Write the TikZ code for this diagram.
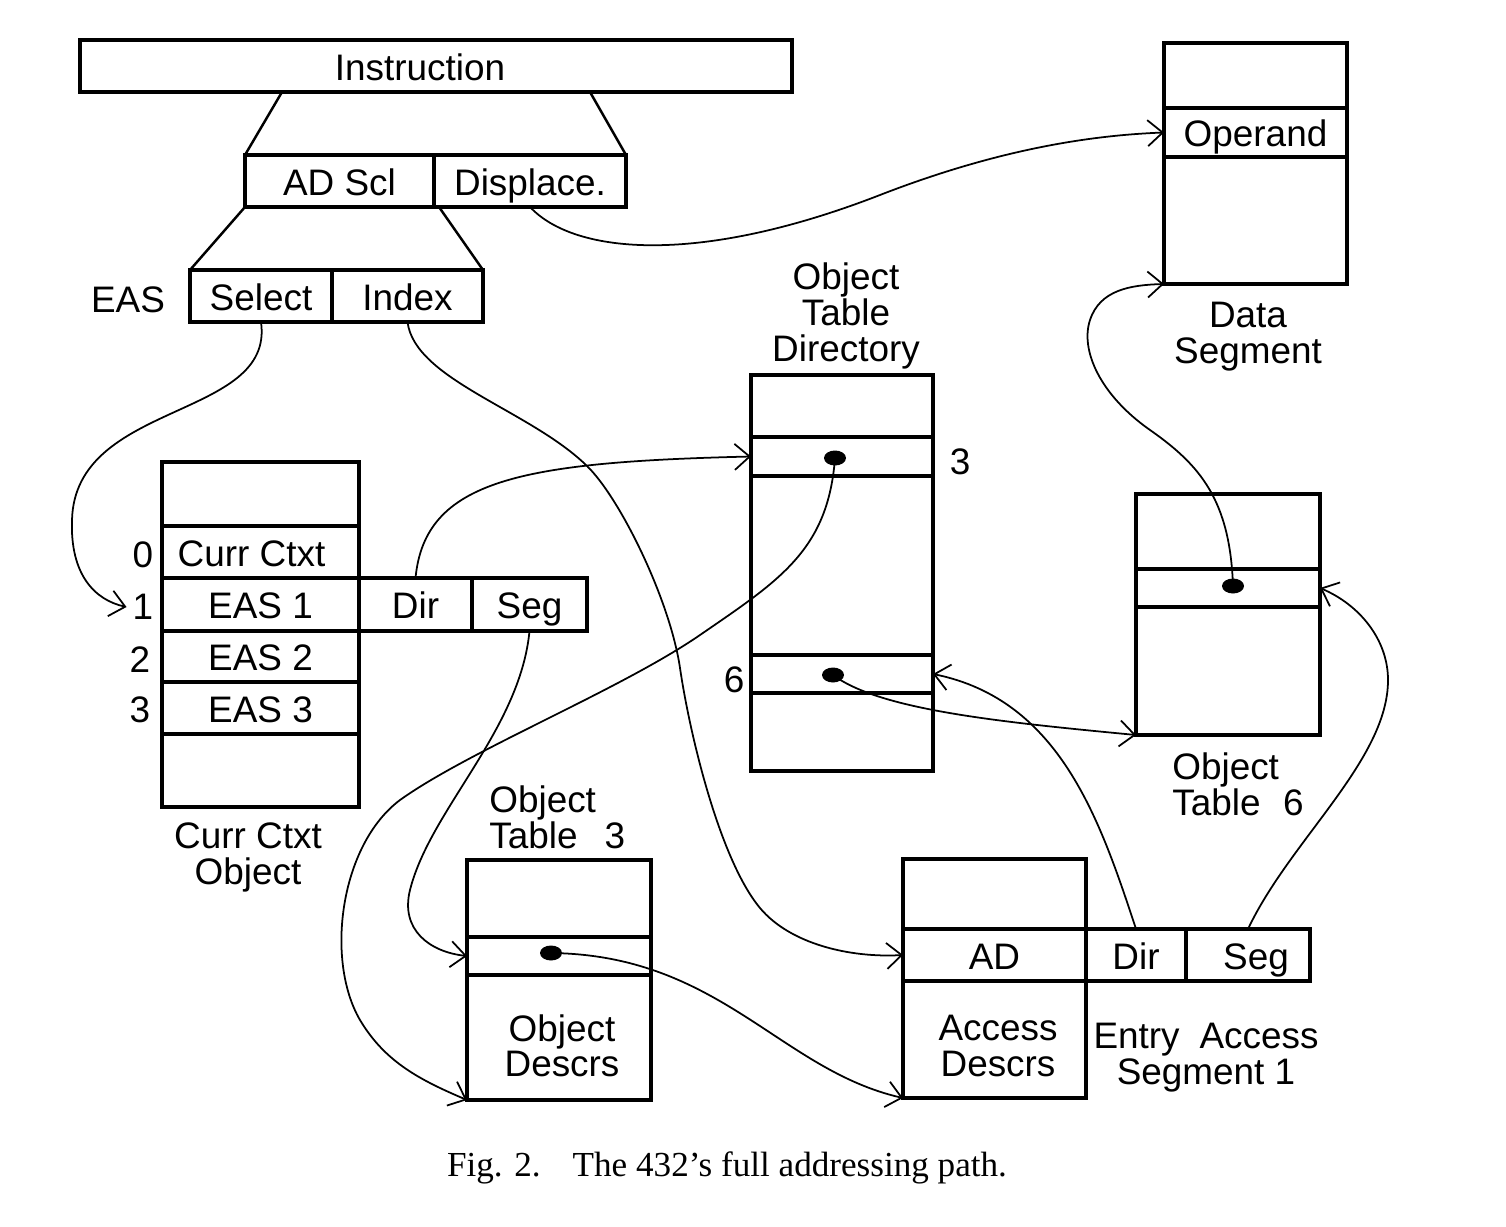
\documentclass[tikz,border=0pt]{standalone}
\usepackage{fontspec}
\setmainfont{Liberation Sans}
\newfontfamily\capfont{Liberation Serif}
\usetikzlibrary{arrows.meta,shapes.geometric}
\newcommand\labfont{\fontsize{21}{25}\selectfont}
\begin{document}
\begin{tikzpicture}[x=0.02cm,y=-0.02cm,
 cell/.style 2 args={draw, line width=2.6pt, rectangle, inner sep=0pt, outer sep=0pt,
   minimum width=#1*0.02cm, minimum height=#2*0.02cm, font=\labfont,
   text height=16pt, text depth=0pt},
 conn/.style={line width=1pt, -{Straight Barb[length=3mm,width=5.2mm]}},
 dot/.style={ellipse, fill, draw=none, minimum width=0.44cm, minimum height=0.3cm, inner sep=0pt},
 lbl/.style={inner sep=0pt, align=center, font=\fontsize{21}{20.5}\selectfont},
 tight/.style={inner sep=0pt, align=center, font=\fontsize{21}{20}\selectfont},
 num/.style={font=\labfont},
 trap/.style={line width=1.4pt}
]
\useasboundingbox (0,0) rectangle (1506,1226);

% instruction and fields
\node[cell={712}{52}] (instr) at (436,66) {\hspace*{-0.64cm}Instruction};
\node[cell={189}{52}] (adsc) at (339.5,181) {AD Scl};
\node[cell={192}{52}] (disp) at (530,181) {Displace.};
\node[cell={142}{52}] (sel) at (261,296) {Select};
\node[cell={151}{52}] (idx) at (407.5,296) {Index};
\node[num] (eas) at (128,300) {EAS};
\coordinate (i1) at (282,92);
\coordinate (i2) at (590,92);
\coordinate (a1) at (439,207);
\draw[trap] (i1) -- (adsc.north west);
\draw[trap] (i2) -- (disp.north east);
\draw[trap] (adsc.south west) -- (sel.north west);
\draw[trap] (a1) -- (idx.north east);

% data segment
\node[cell={183}{65}] (dst) at (1255.5,75.5) {};
\node[cell={183}{49}] (op) at (1255.5,132.5) {Operand};
\node[cell={183}{127}] (dsb) at (1255.5,220.5) {};
\node[lbl] (dslbl) at (1248,337) {Data\\Segment};

% object table directory
\node[cell={182}{62}] (odt0) at (842,406) {};
\node[cell={182}{39}] (r3) at (842,456.5) {};
\node[cell={182}{179}] (odtm) at (842,565.5) {};
\node[cell={182}{38}] (r6) at (842,674) {};
\node[cell={182}{78}] (odtb) at (842,732) {};
\node[lbl] (odtlbl) at (846,316) {Object\\Table\\Directory};
\node[num] (n3) at (960,462) {3};
\node[num] (n6) at (734,680) {6};
\node[dot] (d3) at (835,458) {};
\node[dot] (d6) at (833,675) {};

% current context object
\node[cell={197}{64}] (cc0) at (260.5,494) {};
\node[cell={197}{52}] (ccr0) at (260.5,552) {\hspace*{-0.36cm}Curr Ctxt};
\node[cell={197}{53}] (ccr1) at (260.5,604.5) {EAS 1};
\node[cell={197}{51}] (ccr2) at (260.5,656.5) {EAS 2};
\node[cell={197}{52}] (ccr3) at (260.5,708) {EAS 3};
\node[cell={197}{73}] (ccb) at (260.5,770.5) {};
\node[cell={113}{53}] (cdir) at (415.5,604.5) {Dir};
\node[cell={115}{53}] (cseg) at (529.5,604.5) {Seg};
\node[lbl] (cclbl) at (248,857) {Curr Ctxt\\Object};
\node[num] (n0) at (143,555) {0};
\node[num] (n1) at (143,607) {1};
\node[num] (n2) at (140,660) {2};
\node[num] (nn3) at (140,710) {3};

% object table 3
\node[cell={184}{77}] (t3a) at (559,898.5) {};
\node[cell={184}{38}] (t3r) at (559,956) {};
\node[cell={184}{125}] (t3b) at (559,1037.5) {};
\node[tight] (t3txt) at (562,1046) {Object\\Descrs};
\node[lbl, anchor=west, align=left] (t3lbl) at (489,817) {Object\\Table\hspace{0.54cm}3};
\node[dot] (dt3) at (551,953) {};

% entry access segment
\node[cell={183}{70}] (aca) at (994.5,894) {};
\node[cell={183}{52}] (adr) at (994.5,955) {AD};
\node[cell={183}{117}] (adb) at (994.5,1039.5) {};
\node[cell={100}{52}] (adir) at (1136,955) {Dir};
\node[cell={124}{52}] (aseg) at (1248,955) {\hspace*{0.32cm}Seg};
\node[tight] (actxt) at (998,1046) {Access\\Descrs};
\node[lbl] (aslbl) at (1206,1058) {Entry\hspace{0.54em}Access\\Segment 1};

% object table 6
\node[cell={184}{75}] (t6a) at (1228,531.5) {};
\node[cell={184}{38}] (t6r) at (1228,588) {};
\node[cell={184}{128}] (t6b) at (1228,671) {};
\node[dot] (dt6) at (1233,586) {};
\node[lbl, anchor=west, align=left] (t6lbl) at (1172,784) {Object\\Table\hspace{0.45cm}6};

% caption
\node[font=\capfont\fontsize{20}{24}\selectfont, inner sep=0pt] (cap) at (727,1168)
  {Fig. 2.\hspace{0.64cm}The 432’s full addressing path.};

% connectors
\draw[conn] (disp.south) .. controls (575,255) and (700,265) .. (880,195)
  .. controls (1006,146) and (1100,135) .. (op.west);
\draw[conn] (sel.south) .. controls (275,420) and (75,400) .. (72,520)
  .. controls (70,575) and (95,600) .. (n1.west);
\draw[conn] (idx.south) .. controls (415,380) and (530,410) .. (587,466)
  .. controls (620,498) and (670,600) .. (680,668)
  .. controls (690,736) and (720,860) .. (760,908)
  .. controls (790,944) and (850,958) .. (adr.west);
\draw[conn] (cdir.north) .. controls (425,480) and (520,462) .. (r3.west);
\draw[conn] (d3.center) .. controls (828,550) and (780,580) .. (700,635)
  .. controls (620,690) and (470,750) .. (400,800)
  .. controls (340,845) and (325,960) .. (360,1020)
  .. controls (385,1062) and (420,1080) .. (t3b.south west);
\draw[conn] (d6.center) .. controls (880,710) and (1000,722) .. (t6b.south west);
\draw[conn] (adir.north) .. controls (1100,820) and (1060,700) .. (r6.east);
\draw[conn] (aseg.north) .. controls (1290,840) and (1388,760) .. (1388,680)
  .. controls (1388,640) and (1360,605) .. (t6r.east);
\draw[conn] (dt6.center) .. controls (1230,500) and (1200,465) .. (1150,430)
  .. controls (1100,395) and (1080,350) .. (1090,320)
  .. controls (1100,290) and (1130,285) .. (dsb.south west);
\draw[conn] (cseg.south) .. controls (520,730) and (430,810) .. (410,890)
  .. controls (400,930) and (430,952) .. (t3r.west);
\draw[conn] (dt3.center) .. controls (720,955) and (780,1070) .. (adb.south west);
\end{tikzpicture}
\end{document}
